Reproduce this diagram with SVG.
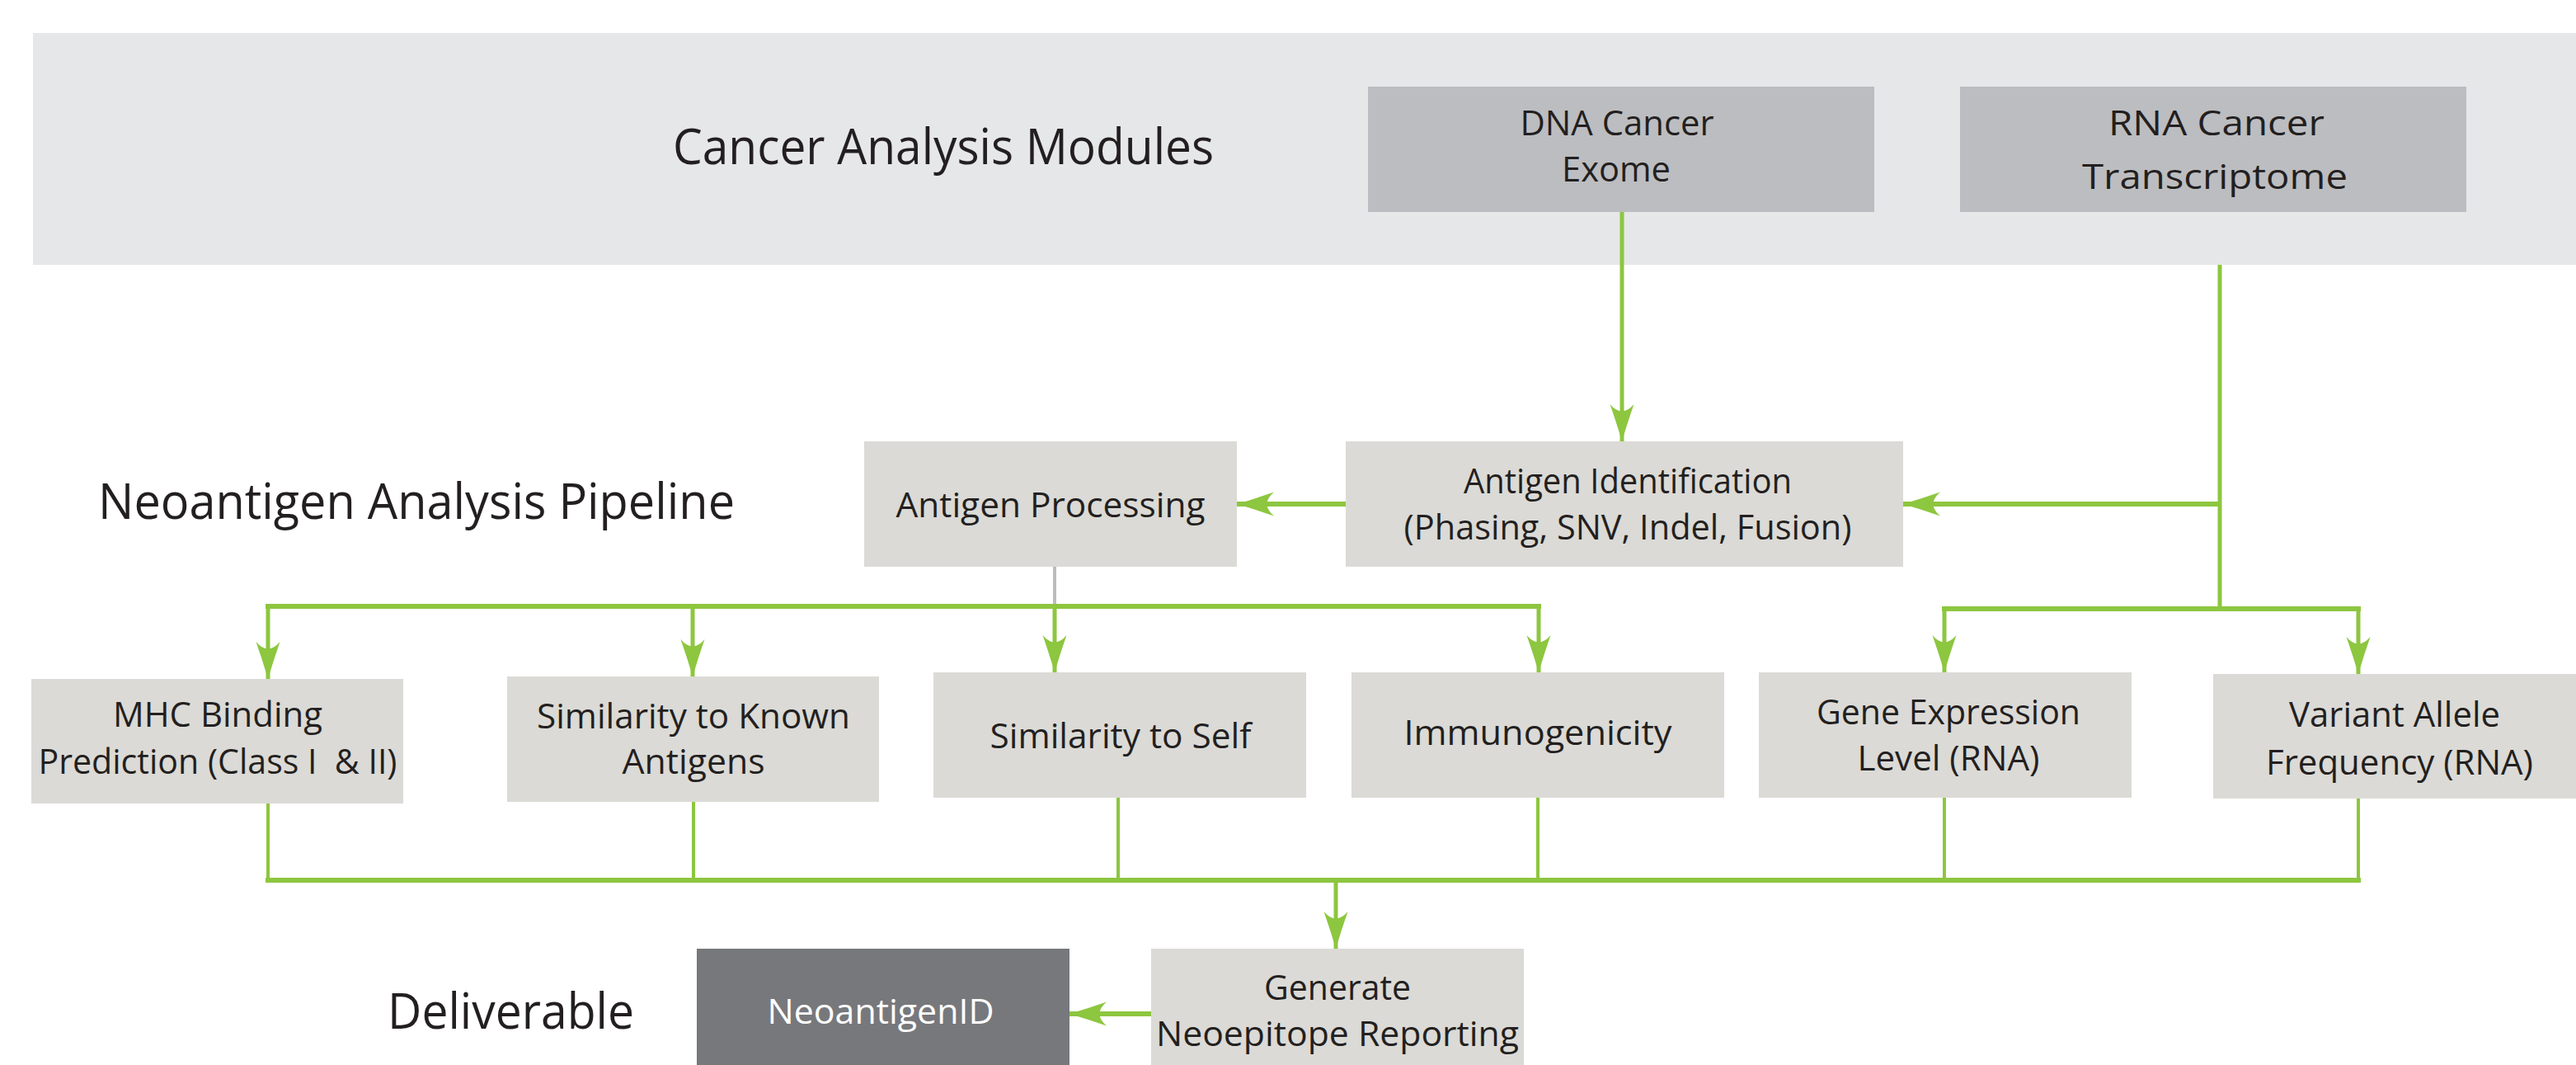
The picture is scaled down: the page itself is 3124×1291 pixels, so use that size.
<svg xmlns="http://www.w3.org/2000/svg" width="3124" height="1291" viewBox="0 0 3124 1291">
<style>
text{font-family:"Open Sans","Noto Sans","Liberation Sans",sans-serif;fill:#231f20;}
.lbl{font-size:60px;}
.t{font-size:42px;text-anchor:middle;}
.box{fill:#dbdad6;}
.mod{fill:#bcbdc0;}
.g{stroke:#8dc63f;fill:none;}
.h{stroke-width:6;}
.v{stroke-width:5;}
.s{stroke-width:4;}
.a{marker-end:url(#arr);}
</style>
<defs>
<marker id="arr" markerUnits="userSpaceOnUse" markerWidth="50" markerHeight="32" refX="45" refY="15" orient="auto" overflow="visible">
<path d="M45,15 Q23,8.5 0,0.5 Q17,15 0,29.5 Q23,21.5 45,15 Z" fill="#8dc63f"/>
</marker>
</defs>
<rect id="band" x="40" y="40" width="3084" height="281" fill="#e6e7e8"/>
<text class="lbl" x="816" y="199" font-size="63" textLength="656" lengthAdjust="spacingAndGlyphs">Cancer Analysis Modules</text>
<text class="lbl" x="119" y="629" textLength="772" lengthAdjust="spacingAndGlyphs">Neoantigen Analysis Pipeline</text>
<text class="lbl" x="470" y="1247" textLength="299" lengthAdjust="spacingAndGlyphs">Deliverable</text>

<g id="connectors">
<line class="g v a" x1="1967" y1="257" x2="1967" y2="535"/>
<polyline class="g v" points="2692,321 2692,738"/>
<line class="g h a" x1="2692" y1="611" x2="2308" y2="611"/>
<line class="g h" x1="2355" y1="738" x2="2863" y2="738"/>
<line class="g v a" x1="2358" y1="738" x2="2358" y2="815"/>
<line class="g v a" x1="2860" y1="738" x2="2860" y2="817"/>
<line class="g h a" x1="1632" y1="611" x2="1500" y2="611"/>
<line x1="1279" y1="687" x2="1279" y2="735" stroke="#bbbcbe" stroke-width="4"/>
<line class="g h" x1="322" y1="735" x2="1869" y2="735"/>
<line class="g v a" x1="325" y1="735" x2="325" y2="823"/>
<line class="g v a" x1="840" y1="735" x2="840" y2="820"/>
<line class="g v a" x1="1279" y1="735" x2="1279" y2="815"/>
<line class="g v a" x1="1866" y1="735" x2="1866" y2="815"/>
<line class="g s" x1="325" y1="974" x2="325" y2="1067"/>
<line class="g s" x1="841" y1="972" x2="841" y2="1067"/>
<line class="g s" x1="1356" y1="967" x2="1356" y2="1067"/>
<line class="g s" x1="1865" y1="967" x2="1865" y2="1067"/>
<line class="g s" x1="2358" y1="967" x2="2358" y2="1067"/>
<line class="g s" x1="2860" y1="968" x2="2860" y2="1067"/>
<line class="g h" x1="322" y1="1067" x2="2863" y2="1067"/>
<line class="g v a" x1="1620" y1="1067" x2="1620" y2="1150"/>
<line class="g h a" x1="1396" y1="1229" x2="1297" y2="1229"/>
</g>

<g id="dna">
<rect class="mod" x="1659" y="105" width="614" height="152"/>
<text class="t" x="1961" y="164" font-size="44" textLength="235" lengthAdjust="spacingAndGlyphs">DNA Cancer</text>
<text class="t" x="1960" y="220" font-size="44" textLength="132" lengthAdjust="spacingAndGlyphs">Exome</text>
</g>
<g id="rna">
<rect class="mod" x="2377" y="105" width="614" height="152"/>
<text class="t" x="2688" y="164" font-size="50" textLength="262" lengthAdjust="spacingAndGlyphs">RNA Cancer</text>
<text class="t" x="2686" y="229" font-size="50" textLength="322" lengthAdjust="spacingAndGlyphs">Transcriptome</text>
</g>
<g id="antigen-processing">
<rect class="box" x="1048" y="535" width="452" height="152"/>
<text class="t" x="1274" y="627" textLength="375" lengthAdjust="spacingAndGlyphs">Antigen Processing</text>
</g>
<g id="antigen-identification">
<rect class="box" x="1632" y="535" width="676" height="152"/>
<text class="t" x="1974" y="598" textLength="398" lengthAdjust="spacingAndGlyphs">Antigen Identification</text>
<text class="t" x="1974" y="654" textLength="543" lengthAdjust="spacingAndGlyphs">(Phasing, SNV, Indel, Fusion)</text>
</g>
<g id="mhc">
<rect class="box" x="38" y="823" width="451" height="151"/>
<text class="t" x="264" y="881" textLength="254" lengthAdjust="spacingAndGlyphs">MHC Binding</text>
<text class="t" x="264" y="938" textLength="435" lengthAdjust="spacingAndGlyphs" xml:space="preserve">Prediction (Class I  &amp; II)</text>
</g>
<g id="known">
<rect class="box" x="615" y="820" width="451" height="152"/>
<text class="t" x="841" y="883" textLength="380" lengthAdjust="spacingAndGlyphs">Similarity to Known</text>
<text class="t" x="841" y="938" textLength="173" lengthAdjust="spacingAndGlyphs">Antigens</text>
</g>
<g id="self">
<rect class="box" x="1132" y="815" width="452" height="152"/>
<text class="t" x="1359" y="907" textLength="317" lengthAdjust="spacingAndGlyphs">Similarity to Self</text>
</g>
<g id="immunogenicity">
<rect class="box" x="1639" y="815" width="452" height="152"/>
<text class="t" x="1865" y="903" textLength="325" lengthAdjust="spacingAndGlyphs">Immunogenicity</text>
</g>
<g id="gene-expression">
<rect class="box" x="2133" y="815" width="452" height="152"/>
<text class="t" x="2363" y="878" textLength="320" lengthAdjust="spacingAndGlyphs">Gene Expression</text>
<text class="t" x="2363" y="934" textLength="221" lengthAdjust="spacingAndGlyphs">Level (RNA)</text>
</g>
<g id="variant-allele">
<rect class="box" x="2684" y="817" width="440" height="151"/>
<text class="t" x="2904" y="881" textLength="256" lengthAdjust="spacingAndGlyphs">Variant Allele</text>
<text class="t" x="2910" y="939" textLength="324" lengthAdjust="spacingAndGlyphs">Frequency (RNA)</text>
</g>
<g id="generate">
<rect class="box" x="1396" y="1150" width="452" height="152"/>
<text class="t" x="1622" y="1212" textLength="178" lengthAdjust="spacingAndGlyphs">Generate</text>
<text class="t" x="1622" y="1268" textLength="440" lengthAdjust="spacingAndGlyphs">Neoepitope Reporting</text>
</g>
<g id="neoantigenid">
<rect x="845" y="1150" width="452" height="152" fill="#77787c"/>
<text class="t" x="1068" y="1241" style="fill:#ffffff" textLength="275" lengthAdjust="spacingAndGlyphs">NeoantigenID</text>
</g>
</svg>
